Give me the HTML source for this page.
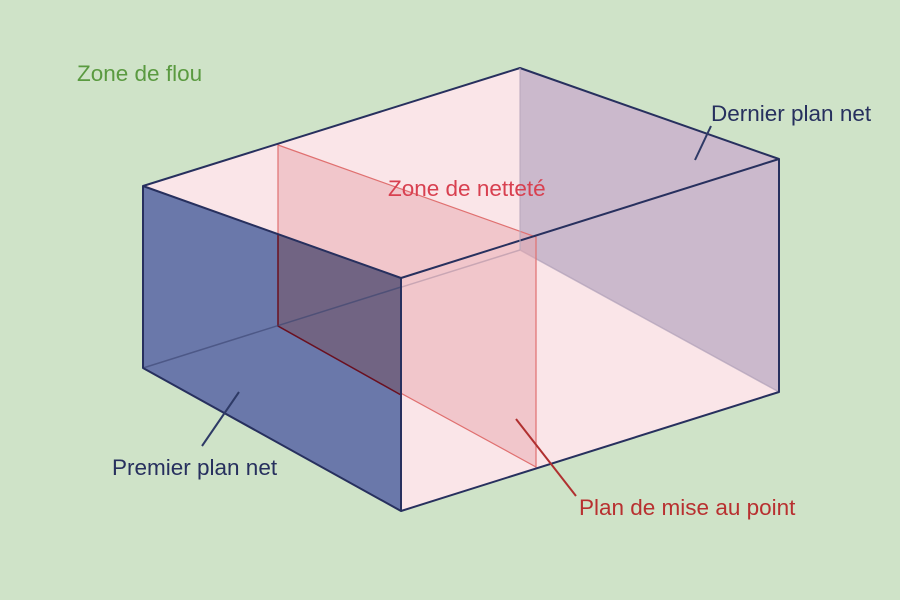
<!DOCTYPE html>
<html><head><meta charset="utf-8"><style>
html,body{margin:0;padding:0;background:#cfe3c8;}
svg{display:block}
text{font-family:"Liberation Sans",sans-serif;font-size:22.5px}
</style></head><body>
<svg width="900" height="600" viewBox="0 0 900 600" xmlns="http://www.w3.org/2000/svg">
<rect width="900" height="600" fill="#cfe3c8"/>
<polygon points="143,186 520,68 779,159 779,392 401,511 143,368" fill="#fae5e8"/>
<polygon points="520,68 779,159 779,392 520,250" fill="#cbb9cc"/>
<line x1="143" y1="368" x2="520" y2="250" stroke="#8a8aa8" stroke-width="1.5" opacity="0.7"/>
<line x1="520" y1="250" x2="779" y2="392" stroke="#b0a0b8" stroke-width="1.5" opacity="0.7"/>
<polygon points="278,145 536,237 536,467 278,326" fill="#e8a8ae" fill-opacity="0.5" stroke="#e07070" stroke-width="1.2"/>
<polygon points="143,186 401,278 401,511 143,368" fill="#6a78aa"/>
<polygon points="278,234 401,278 401,395 278,326" fill="#716483"/>
<polyline points="278,234 278,326 401,395" fill="none" stroke="#6a1020" stroke-width="1.5"/>
<line x1="143" y1="368" x2="401" y2="287" stroke="#3a4470" stroke-width="1.5" opacity="0.6"/>
<g stroke="#27305e" stroke-width="2" fill="none" stroke-linejoin="round">
<polygon points="143,186 520,68 779,159 401,278"/>
<polyline points="779,159 779,392 401,511 143,368 143,186"/>
<line x1="401" y1="278" x2="401" y2="511"/>
</g>
<line x1="520" y1="68" x2="520" y2="250" stroke="#b8a8bc" stroke-width="1"/>
<line x1="695" y1="160" x2="711" y2="126" stroke="#2e3a66" stroke-width="2"/>
<line x1="202" y1="446" x2="239" y2="392" stroke="#2e3a66" stroke-width="2"/>
<line x1="516" y1="419" x2="576" y2="496" stroke="#b03030" stroke-width="2"/>
<text x="77" y="81" fill="#5a9a40">Zone de flou</text>
<text x="711" y="121" fill="#27305e">Dernier plan net</text>
<text x="388" y="196" fill="#d84050">Zone de netteté</text>
<text x="112" y="475" fill="#27305e">Premier plan net</text>
<text x="579" y="515" fill="#b83030">Plan de mise au point</text>
</svg>
</body></html>
